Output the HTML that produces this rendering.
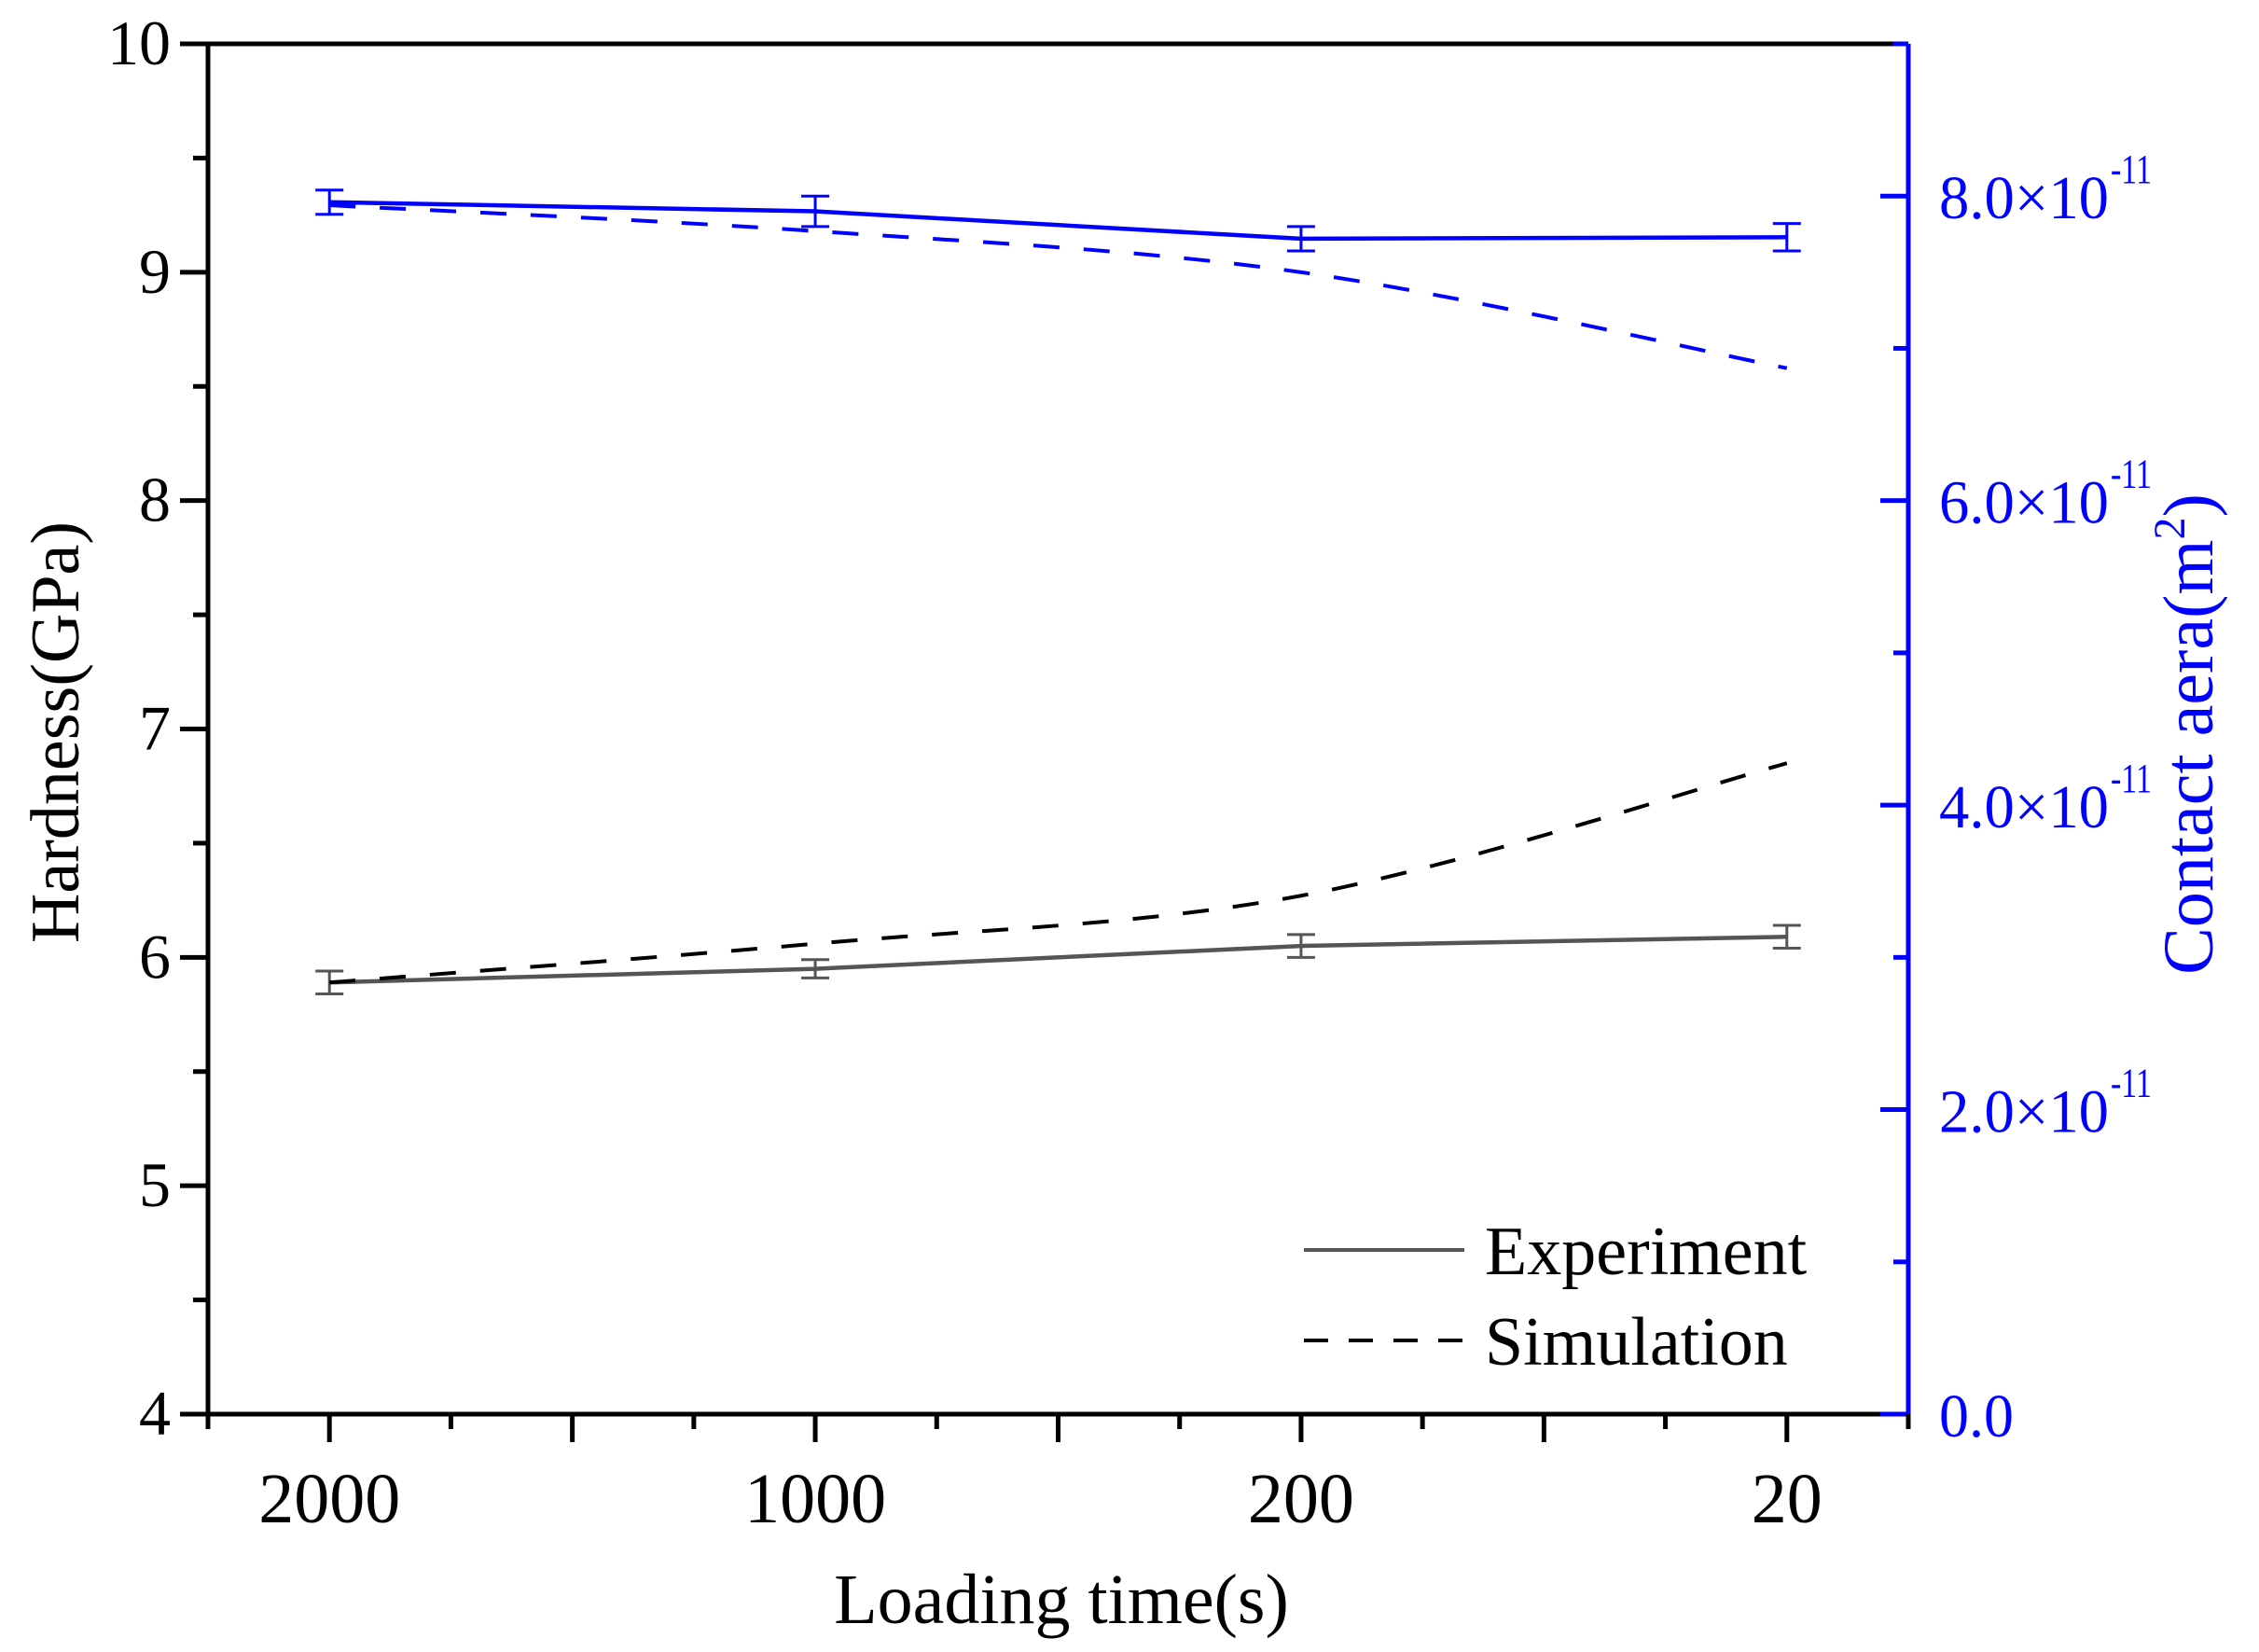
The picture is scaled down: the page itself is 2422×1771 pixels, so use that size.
<!DOCTYPE html>
<html><head><meta charset="utf-8"><style>
html,body{margin:0;padding:0;background:#fff}
svg{display:block}
text{font-family:"Liberation Serif",serif}
</style></head><body>
<svg id="chart" width="2422" height="1771" viewBox="0 0 2422 1771" xmlns="http://www.w3.org/2000/svg">
<g id="g"></g>
</svg>
<script>
const categories = ["2000","1000","200","20"];
const expHardness = [5.89, 5.95, 6.05, 6.09];
const expHardnessErr = [0.05, 0.04, 0.05, 0.05];
const simHardness = [5.89, 6.06, 6.27, 6.85];
const expArea = [7.96, 7.90, 7.72, 7.73];
const expAreaErr = [0.08, 0.10, 0.08, 0.09];
const simArea = [7.94, 7.77, 7.50, 6.87];
const leftTicks = [4,5,6,7,8,9,10];
const rightTicks = [0,2,4,6,8];
const rightTickLabels = ["0.0","2.0×10","4.0×10","6.0×10","8.0×10"];

const NS="http://www.w3.org/2000/svg";
const g=document.getElementById('g');
const L=223,R=2046,T=47,B=1516;
const xs=i=>L+(i+0.25)/3.5*(R-L);
const yl=v=>B-(v-4)/6*(B-T);
const yr=v=>B-v/9*(B-T);
function mk(tag,attrs,parent){const e=document.createElementNS(NS,tag);for(const k in attrs)e.setAttribute(k,attrs[k]);(parent||g).appendChild(e);return e;}
function spline(pts){let d=`M${pts[0][0]},${pts[0][1]}`;for(let i=0;i<pts.length-1;i++){const p0=pts[Math.max(0,i-1)],p1=pts[i],p2=pts[i+1],p3=pts[Math.min(pts.length-1,i+2)];const c1=[p1[0]+(p2[0]-p0[0])/6,p1[1]+(p2[1]-p0[1])/6],c2=[p2[0]-(p3[0]-p1[0])/6,p2[1]-(p3[1]-p1[1])/6];d+=` C${c1[0]},${c1[1]} ${c2[0]},${c2[1]} ${p2[0]},${p2[1]}`;}return d;}
function poly(pts){return 'M'+pts.map(p=>p[0]+','+p[1]).join(' L');}

let e;
e=mk('line',{x1:L,y1:T,x2:R,y2:T,stroke:'#000','stroke-width':5});

e=mk('line',{x1:L,y1:T,x2:L,y2:B+2,stroke:'#000','stroke-width':5});

e=mk('line',{x1:L,y1:B,x2:R,y2:B,stroke:'#000','stroke-width':5});

e=mk('line',{x1:R,y1:T,x2:R,y2:B+2,stroke:'#0000ff','stroke-width':5});


for(let v=4;v<=10;v+=0.5){const maj=Number.isInteger(v);e=mk('line',{x1:L-(maj?30:16),y1:yl(v),x2:L,y2:yl(v),stroke:'#000','stroke-width':5});
}
leftTicks.forEach(v=>{e=mk('text',{x:L-40,y:yl(v)+22,'font-size':68,'text-anchor':'end'});e.textContent=v;
});
for(let v=0;v<=9;v+=1){const maj=v%2===0;e=mk('line',{x1:R,y1:yr(v),x2:R-(maj?30:16),y2:yr(v),stroke:'#0000ff','stroke-width':5});
}
rightTicks.forEach((v,i)=>{const t=mk('text',{x:R+33,y:yr(v)+24,'font-size':66,fill:'#0000ff'});

t.textContent=rightTickLabels[i];
if(i===0){t.setAttribute('textLength',80);t.setAttribute('lengthAdjust','spacingAndGlyphs');}
else{t.setAttribute('textLength',182);t.setAttribute('lengthAdjust','spacingAndGlyphs');
const s=mk('text',{x:R+33+184,y:yr(v)-14,'font-size':44,fill:'#0000ff',textLength:44,lengthAdjust:'spacingAndGlyphs'});s.textContent='-11';
}});
for(let k=-1;k<=13;k++){const i=k/4;const x=xs(i);if(x<L-1||x>R+1)continue;const maj=k%2===0;
e=mk('line',{x1:x,y1:B,x2:x,y2:B+(maj?30:16),stroke:'#000','stroke-width':5});
}
categories.forEach((c,i)=>{e=mk('text',{x:xs(i),y:1632,'font-size':76,'text-anchor':'middle'});e.textContent=c;
});

function series(vals,yf,color,dash,name){const pts=vals.map((v,i)=>[xs(i),yf(v)]);e=mk('path',{d:dash?spline(pts):poly(pts),fill:'none',stroke:color,'stroke-width':dash?4:4.5,'stroke-dasharray':dash?'28,26':'none'});
}
function errs(vals,err,yf,color,name){vals.forEach((v,i)=>{const x=xs(i),y1=yf(v-err[i]),y2=yf(v+err[i]);
e=mk('path',{d:`M${x},${y1}V${y2}M${x-15},${y1}H${x+15}M${x-15},${y2}H${x+15}`,stroke:color,'stroke-width':3,fill:'none'});
});}
series(expHardness,yl,'#555',false,'experiment-hardness-line');
errs(expHardness,expHardnessErr,yl,'#555','experiment-hardness-error-bar');
series(simHardness,yl,'#000',true,'simulation-hardness-line');
series(expArea,yr,'#0000ff',false,'experiment-area-line');
errs(expArea,expAreaErr,yr,'#0000ff','experiment-area-error-bar');
series(simArea,yr,'#0000ff',true,'simulation-area-line');

e=mk('line',{x1:1398,y1:1340,x2:1570,y2:1340,stroke:'#555','stroke-width':4});

e=mk('text',{x:1592,y:1366,'font-size':74});e.textContent='Experiment';

e=mk('line',{x1:1398,y1:1437,x2:1570,y2:1437,stroke:'#000','stroke-width':4,'stroke-dasharray':'26,22'});

e=mk('text',{x:1592,y:1463,'font-size':74});e.textContent='Simulation';


e=mk('text',{x:1138,y:1740,'font-size':76,'text-anchor':'middle'});e.textContent='Loading time(s)';

e=mk('text',{x:0,y:0,'font-size':74,'text-anchor':'middle',transform:'translate(84,785) rotate(-90)'});e.textContent='Hardness(GPa)';

const rt=mk('text',{x:0,y:0,'font-size':76,'text-anchor':'middle',fill:'#0000ff',transform:'translate(2372,787) rotate(-90)'});

rt.innerHTML='Contact aera(m<tspan font-size="48" dy="-30">2</tspan><tspan dy="30">)</tspan>';
</script>
</body></html>
